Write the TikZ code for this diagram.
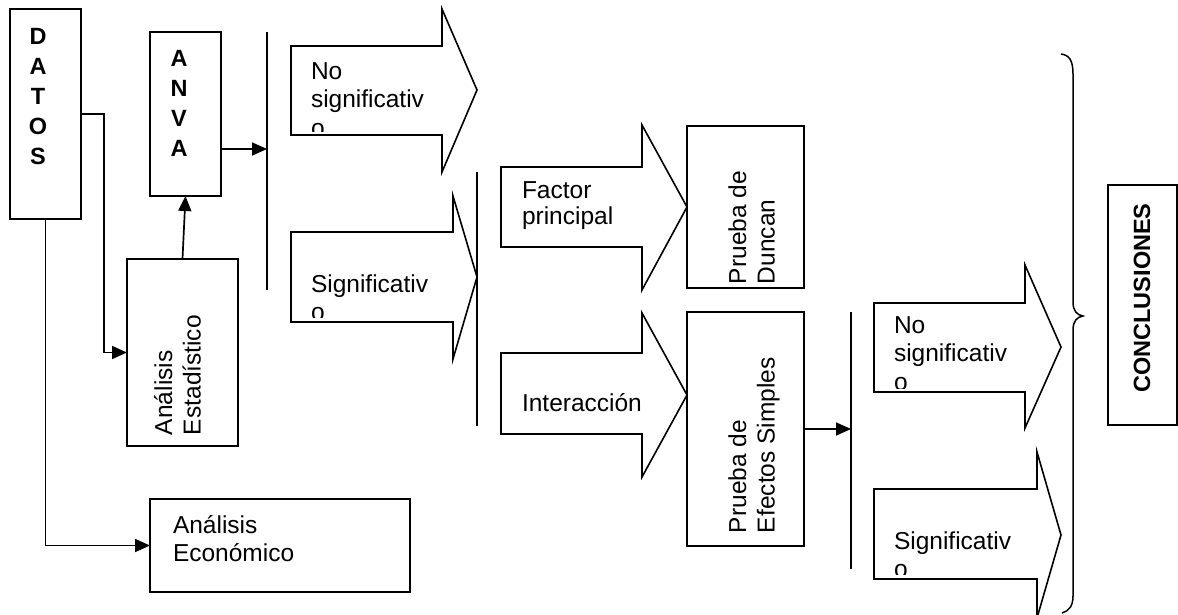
\documentclass[tikz,border=0pt]{standalone}
\usepackage{fontspec}
\setmainfont{Liberation Sans}
\usetikzlibrary{arrows.meta,calc}
\tikzset{
  every picture/.style={x=1pt,y=-1pt},
  box/.style={draw, line width=1.7pt, inner sep=0pt, outer sep=0pt},
  blk/.style={draw, line width=1.6pt, fill=white, line join=miter},
  vline/.style={line width=1.7pt},
  conn/.style={line width=1.7pt, -{Triangle[length=15pt,width=13pt]}},
  lbl/.style={inner sep=0pt, outer sep=0pt, font=\fontsize{24.5}{28.5}\selectfont},
  bold/.style={inner sep=0pt, outer sep=0pt, font=\fontsize{23.5}{30}\selectfont\bfseries}
}
% block arrow: x0, body top, body bottom, head x, head top, head bottom, tip x, tip y
\newcommand{\blockarr}[8]{%
  \draw[blk] (#1,#2) -- (#4,#2) -- (#4,#5) -- (#7,#8) -- (#4,#6) -- (#4,#3) -- (#1,#3) -- cycle;}
\begin{document}
\begin{tikzpicture}
\useasboundingbox (0,0) rectangle (1178,614);

% ---------- boxes ----------
\node[box, minimum width=71pt, minimum height=210pt] (datos) at (45.5,114) {};
\node[box, minimum width=71pt, minimum height=164pt] (anva) at (185.5,114) {};
\node[box, minimum width=111pt, minimum height=187pt] (estad) at (182.5,352.5) {};
\node[box, minimum width=260pt, minimum height=93pt] (econ) at (280,545.5) {};
\node[box, minimum width=117pt, minimum height=162pt] (duncan) at (745.5,207) {};
\node[box, minimum width=117pt, minimum height=234pt] (efectos) at (745.5,429) {};
\node[box, minimum width=69pt, minimum height=240pt] (concl) at (1142.5,305) {};

% ---------- texts ----------
\node[bold, anchor=base] (tdatos) at (38,44) {\parbox[t]{30pt}{\centering D\\A\\T\\O\\S}};
\node[bold, anchor=base] (tanva) at (179,66) {\parbox[t]{30pt}{\centering A\\N\\V\\A}};
\node[lbl, rotate=90, anchor=base west] (testad) at (172,435) {\parbox[t]{200pt}{Análisis\\Estadístico}};
\node[lbl, anchor=base west] (tecon) at (173,533) {\parbox[t]{200pt}{Análisis\\Económico}};
\node[lbl, rotate=90, anchor=base west] (tduncan) at (746,284) {\parbox[t]{200pt}{Prueba de\\Duncan}};
\node[lbl, rotate=90, anchor=base west] (tefectos) at (746,533) {\parbox[t]{200pt}{Prueba de\\Efectos Simples}};
\node[bold, rotate=90] (tconcl) at (1142,298) {CONCLUSIONES};

% ---------- vertical bars ----------
\coordinate (v1t) at (267,32);  \coordinate (v1b) at (267,290);
\coordinate (v2t) at (477,172); \coordinate (v2b) at (477,426);
\coordinate (v3t) at (851,312); \coordinate (v3b) at (851,569);
\draw[vline] (v1t) -- (v1b);
\draw[vline] (v3t) -- (v3b);

% ---------- block arrows ----------
\blockarr{291}{46}{135}{442}{9}{172}{477}{90}
\blockarr{291}{232}{322}{453}{196}{359}{477}{277}
\draw[vline] (v2t) -- (v2b);
\blockarr{501}{167}{247}{642}{125}{290}{687}{207}
\blockarr{501}{353}{434}{642}{313}{477}{687}{395}
\blockarr{874}{303}{392}{1025}{265}{428}{1061}{347}
\blockarr{874}{489}{579}{1037}{452}{618}{1061}{535}

% ---------- texts in block arrows ----------
\begin{scope}
  \clip (293,48) rectangle (440,131);
  \node[lbl, anchor=base west] (tns1) at (311,79) {\parbox[t]{200pt}{No\\significativ\\o}};
\end{scope}
\begin{scope}
  \clip (293,234) rectangle (451,317);
  \node[lbl, anchor=base west] (ts1) at (311,292) {\parbox[t]{200pt}{Significativ\\o}};
\end{scope}
\node[lbl, anchor=base west] (tfac) at (522,198) {\parbox[t]{200pt}{\baselineskip=26pt Factor\\principal}};
\node[lbl, anchor=base west] (tint) at (522,411) {Interacción};
\begin{scope}
  \clip (876,305) rectangle (1023,388);
  \node[lbl, anchor=base west] (tns2) at (894,333) {\parbox[t]{200pt}{No\\significativ\\o}};
\end{scope}
\begin{scope}
  \clip (876,491) rectangle (1035,574);
  \node[lbl, anchor=base west] (ts2) at (894,549) {\parbox[t]{200pt}{Significativ\\o}};
\end{scope}

% ---------- connectors ----------
\coordinate (a1) at (267,149);
\draw[conn] (anva.east |- a1) -- (a1);
\draw[conn] (estad.north) -- (anva.south);
\draw[conn] (datos.east) -- ++(23,0) |- (estad.west);
\draw[conn] (datos.south) |- (econ.west);
\draw[conn] (efectos.east) -- (efectos.east -| v3t);

% ---------- brace ----------
\draw[line width=1.5pt] (1061,54) .. controls (1069,55) and (1073,60) .. (1073,74)
  -- (1073,302) .. controls (1073,311) and (1077,315) .. (1083,316)
  .. controls (1077,317) and (1073,321) .. (1073,330)
  -- (1073,596) .. controls (1073,606) and (1069,611) .. (1062,613);
\end{tikzpicture}
\end{document}
